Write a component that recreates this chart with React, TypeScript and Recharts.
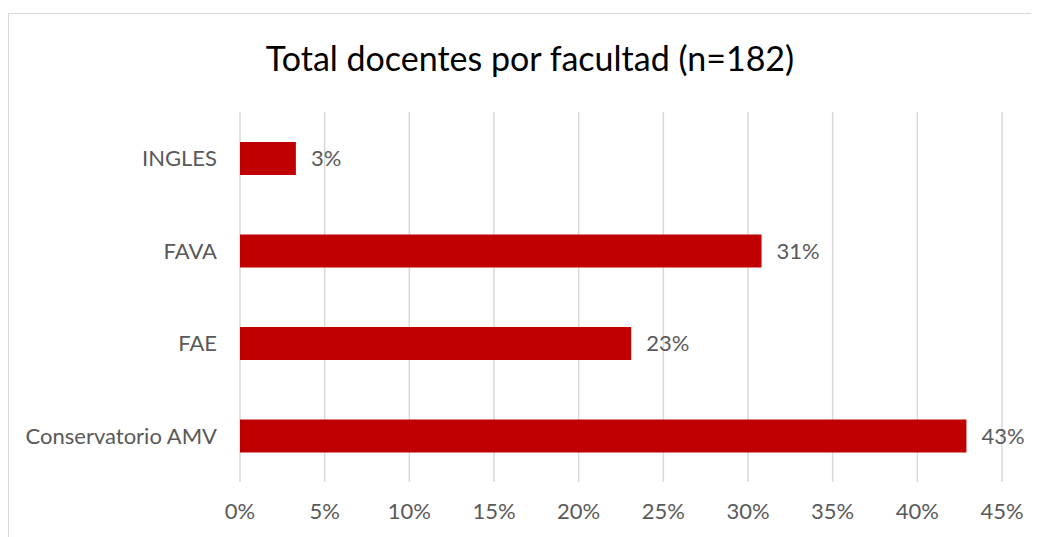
import React from "react";
import { BarChart, Bar, XAxis, YAxis, CartesianGrid, LabelList } from "recharts";

// facultades, de arriba hacia abajo
const categories = ["INGLES", "FAVA", "FAE", "Conservatorio AMV"];
// porcentaje del total de docentes (n=182)
const shares = [3.3, 30.8, 23.1, 42.9];
const xTicks = [0, 5, 10, 15, 20, 25, 30, 35, 40, 45];

const data = categories.map((name, i) => ({ name, value: shares[i] }));

const FONT = "Lato, 'Open Sans', sans-serif";
const TEXT = "#595959";

export default function App() {
  return (
    <div style={{ position: "relative", width: 1031, height: 529, fontFamily: FONT, background: "#fff" }}>
      <div
        style={{
          position: "absolute",
          left: 0,
          top: 5,
          width: 1031,
          height: 524,
          borderLeft: "1px solid #d9d9d9",
          borderTop: "1px solid #d9d9d9",
          boxSizing: "border-box",
        }}
      />
      <div
        style={{
          position: "absolute",
          left: 22,
          width: 1000,
          top: 33,
          textAlign: "center",
          fontSize: 34,
          lineHeight: "34px",
          color: "#000",
        }}
      >
        Total docentes por facultad (n=182)
      </div>
      <div style={{ position: "absolute", left: 0, top: 0 }}>
        <BarChart
          width={1031}
          height={529}
          data={data}
          layout="vertical"
          margin={{ top: 104, right: 37, left: 0, bottom: 15 }}
        >
          <CartesianGrid horizontal={false} stroke="#d9d9d9" strokeWidth={1.5} />
          <XAxis
            type="number"
            domain={[0, 45]}
            ticks={xTicks}
            tickFormatter={(v) => `${v}%`}
            axisLine={false}
            tickLine={false}
            tickSize={0}
            tickMargin={21}
            height={40}
            interval={0}
            tick={{ fill: TEXT, fontSize: 22 }}
          />
          <YAxis
            type="category"
            dataKey="name"
            width={232}
            axisLine={false}
            tickLine={false}
            tickSize={0}
            tickMargin={23}
            tick={{ fill: TEXT, fontSize: 22 }}
          />
          <Bar dataKey="value" fill="#c00000" barSize={33} isAnimationActive={false}>
            <LabelList
              dataKey="value"
              position="right"
              offset={15}
              fill={TEXT}
              fontSize={22}
              formatter={(v: number) => `${Math.round(v)}%`}
            />
          </Bar>
        </BarChart>
      </div>
    </div>
  );
}
